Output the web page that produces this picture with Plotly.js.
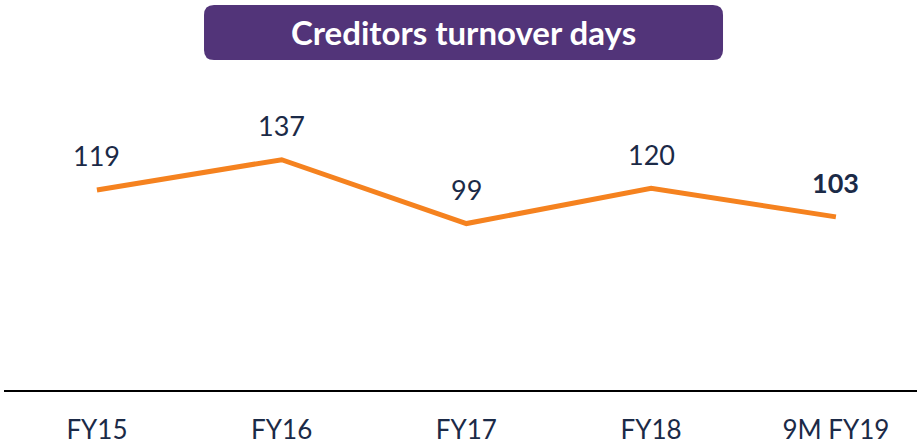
<!DOCTYPE html>
<html><head><meta charset="utf-8">
<script src="https://cdn.plot.ly/plotly-3.0.1.min.js"></script>
<style>html,body{margin:0;padding:0;background:#fff;}</style>
</head><body>
<div id="chart" style="width:917px;height:447px;"></div>
<script>
const categories = ["FY15", "FY16", "FY17", "FY18", "9M FY19"];
const days = [119, 137, 99, 120, 103];
const boldLabel = [false, false, false, false, true];
const chartTitle = "Creditors turnover days";

const navy = "#1B2A47";
const trace = {
  x: categories, y: days, type: "scatter", mode: "lines",
  line: {color: "#F5821F", width: 5},
  hoverinfo: "skip", cliponaxis: false
};
const annotations = categories.map((c, i) => ({
  x: c, y: days[i], xref: "x", yref: "y",
  text: boldLabel[i] ? "<b>" + days[i] + "</b>" : String(days[i]),
  showarrow: false, yshift: 34, yanchor: "middle",
  font: {family: "Lato, sans-serif", size: 27, color: navy}
}));
annotations.push({
  x: 0.5033, y: 0.9167, xref: "paper", yref: "paper",
  text: "<b>" + chartTitle + "</b>", showarrow: false,
  xanchor: "center", yanchor: "middle",
  font: {family: "Lato, sans-serif", size: 33, color: "#ffffff"}
});
const w = 259.5, h = 27.5, r = 10;
const path = `M ${-w+r},${-h} L ${w-r},${-h} Q ${w},${-h} ${w},${-h+r} L ${w},${h-r} Q ${w},${h} ${w-r},${h} L ${-w+r},${h} Q ${-w},${h} ${-w},${h-r} L ${-w},${-h+r} Q ${-w},${-h} ${-w+r},${-h} Z`;
const layout = {
  width: 917, height: 447,
  margin: {l: 4, r: 0, t: 0, b: 57},
  paper_bgcolor: "#ffffff", plot_bgcolor: "#ffffff",
  showlegend: false,
  xaxis: {
    type: "category", range: [-0.503, 4.439],
    showline: true, linecolor: "#000000", linewidth: 2,
    showgrid: false, zeroline: false,
    ticks: "outside", ticklen: 16, tickcolor: "rgba(0,0,0,0)",
    tickfont: {family: "Lato, sans-serif", size: 26, color: navy}
  },
  yaxis: {range: [0, 232], visible: false, showgrid: false, zeroline: false},
  shapes: [{
    type: "path", xref: "paper", yref: "paper",
    xsizemode: "pixel", ysizemode: "pixel",
    xanchor: 0.5033, yanchor: 0.9167,
    path: path, fillcolor: "#523479", line: {width: 0}, layer: "above"
  }],
  annotations: annotations
};
Plotly.newPlot("chart", [trace], layout, {displayModeBar: false, staticPlot: true});
</script>
</body></html>
